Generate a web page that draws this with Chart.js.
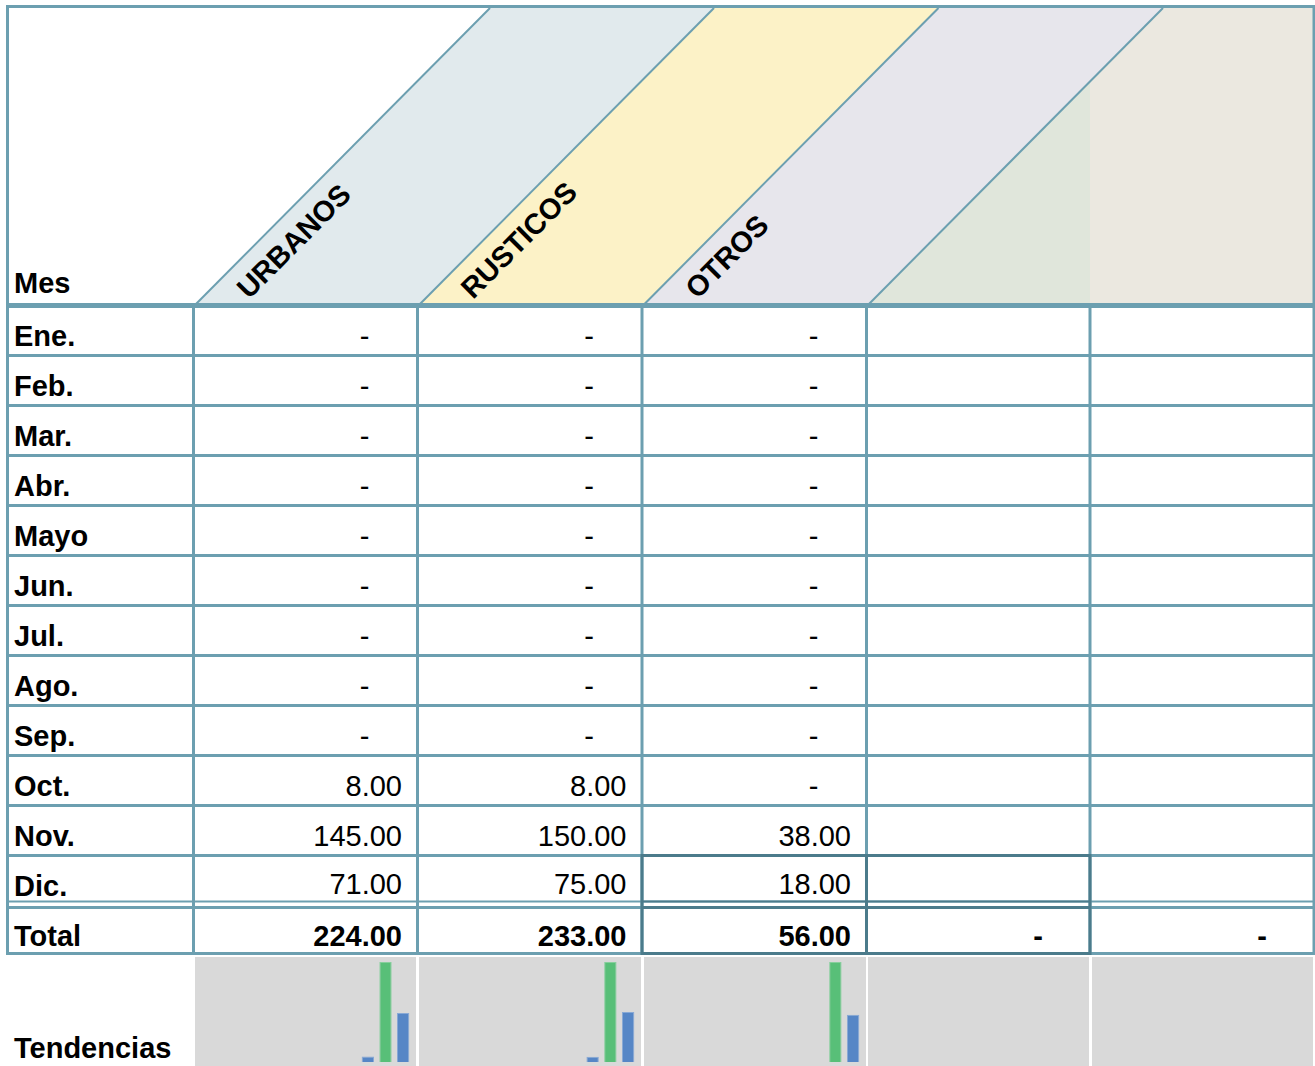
<!DOCTYPE html>
<html lang="es">
<head>
<meta charset="utf-8">
<title>Tendencias</title>
<script src="https://cdn.jsdelivr.net/npm/chart.js@4.4.1/dist/chart.umd.min.js"></script>
<style>
  html, body { margin: 0; padding: 0; background: #fff; }
  #sheet {
    position: relative;
    width: 1315px;
    height: 1066px;
    overflow: hidden;
    font-family: 'Liberation Sans', Arial, sans-serif;
  }
  #grid { position: absolute; left: 0; top: 0; }
  .spark { position: absolute; background: #d9d9d9; }
  .spark canvas { display: block; }
</style>
</head>
<body>
<div id="sheet">
  <svg id="grid" width="1315" height="1066" xmlns="http://www.w3.org/2000/svg"></svg>
</div>
<script>
(() => {
  'use strict';

  // ── Data ────────────────────────────────────────────────────────────────────

  const MONTHS = ['Ene.', 'Feb.', 'Mar.', 'Abr.', 'Mayo', 'Jun.',
                  'Jul.', 'Ago.', 'Sep.', 'Oct.', 'Nov.', 'Dic.'];

  const HEADERS = ['URBANOS', 'RUSTICOS', 'OTROS', '', ''];

  const URBANOS  = [0, 0, 0, 0, 0, 0, 0, 0, 0, 8, 145, 71];
  const RUSTICOS = [0, 0, 0, 0, 0, 0, 0, 0, 0, 8, 150, 75];
  const OTROS    = [0, 0, 0, 0, 0, 0, 0, 0, 0, 0, 38, 18];
  const EXTRA_1  = [null, null, null, null, null, null, null, null, null, null, null, null];
  const EXTRA_2  = [null, null, null, null, null, null, null, null, null, null, null, null];

  const SERIES = [URBANOS, RUSTICOS, OTROS, EXTRA_1, EXTRA_2];

  // ── Layout / colours ────────────────────────────────────────────────────────

  const COL_X  = [7.5, 193.5, 417.5, 642, 866.5, 1090, 1314];   // grid line centres
  const LINE   = '#6c9fb0';
  const DARK   = '#4b7b8b';
  const BANDS  = ['#e1eaed', '#fcf2c7', '#e7e6ec', '#e0e6db'];
  const BEIGE  = '#ebe8e0';
  const FONT   = "'Liberation Sans', Arial, sans-serif";
  const SIZE   = 29;
  const HEAD_TOP = 8, HEAD_BOT = 305;
  const SLANT  = 295;

  const svg = document.getElementById('grid');
  const parts = [];

  const line = (x1, y1, x2, y2, w, c) =>
    parts.push(`<line x1="${x1}" y1="${y1}" x2="${x2}" y2="${y2}" stroke="${c || LINE}" stroke-width="${w}"/>`);
  const poly = (pts, fill) =>
    parts.push(`<polygon points="${pts.map(p => p.join(',')).join(' ')}" fill="${fill}"/>`);
  const text = (x, y, s, opts = {}) =>
    parts.push(`<text x="${x}" y="${y}" font-family="${FONT}" font-size="${SIZE}" ` +
      `font-weight="${opts.bold ? 'bold' : 'normal'}" text-anchor="${opts.anchor || 'start'}" fill="#000"` +
      `${opts.rotate ? ` transform="rotate(-45 ${x} ${y})"` : ''}>${s}</text>`);

  // ── Slanted header ──────────────────────────────────────────────────────────

  const bx = k => COL_X[k] + 1.5;               // bottom x of the k-th slanted line
  const band = k => [[bx(k), HEAD_BOT], [bx(k) + SLANT, HEAD_TOP],
                     [bx(k + 1) + SLANT, HEAD_TOP], [bx(k + 1), HEAD_BOT]];

  for (let k = 0; k < 4; k++) poly(band(k + 1), BANDS[k]);

  // last column keeps its own fill right of the fourth slanted line
  const yCut = HEAD_BOT - (COL_X[5] - bx(4)) * (HEAD_BOT - HEAD_TOP) / SLANT;
  poly([[COL_X[5], HEAD_BOT], [COL_X[5], yCut], [bx(4) + SLANT, HEAD_TOP],
        [1315, HEAD_TOP], [1315, HEAD_BOT]], BEIGE);

  for (let k = 1; k <= 4; k++) line(bx(k), HEAD_BOT, bx(k) + SLANT, HEAD_TOP, 2);

  HEADERS.forEach((h, i) => {
    if (h) text(bx(i + 1) + 54, 300, h, { bold: true, rotate: true });
  });
  text(14, 293, 'Mes', { bold: true });

  // ── Grid lines ──────────────────────────────────────────────────────────────

  line(6, 6.5, 1315, 6.5, 3);
  line(COL_X[0], 5, COL_X[0], 955, 3);
  line(COL_X[6], 5, COL_X[6], 955, 3);
  line(6, 305.5, 1315, 305.5, 5);
  for (let i = 1; i <= 11; i++) line(6, 305.5 + 50 * i, 1315, 305.5 + 50 * i, 3);
  line(6, 901.5, 1315, 901.5, 2);
  line(6, 907.5, 1315, 907.5, 3);
  line(6, 953.5, 1315, 953.5, 3);
  for (let c = 1; c <= 5; c++) line(COL_X[c], 305, COL_X[c], 955, 3);

  // darker box around the last rows of the third and fourth column
  [855.5, 901.5, 907.5, 953.5].forEach(y => line(COL_X[3], y, COL_X[5], y, y === 901.5 ? 2 : 3, DARK));
  [3, 4, 5].forEach(c => line(COL_X[c], 854, COL_X[c], 955, 3, DARK));

  // ── Cell texts ──────────────────────────────────────────────────────────────

  MONTHS.forEach((m, i) => text(14, 346 + 50 * i, m, { bold: true }));
  text(14, 946, 'Total', { bold: true });
  text(14, 1058, 'Tendencias', { bold: true });

  SERIES.forEach((values, c) => {
    const right = COL_X[c + 2];
    values.forEach((v, i) => {
      const y = Math.min(346 + 50 * i, 894);
      if (v === null) return;
      if (v === 0) text(right - 53, y, '-', { anchor: 'middle' });
      else text(right - 15.5, y, v.toFixed(2), { anchor: 'end' });
    });
    const total = values.reduce((a, b) => a + (b || 0), 0);
    if (total === 0) text(right - 52, 946, '-', { anchor: 'middle', bold: true });
    else text(right - 15.5, 946, total.toFixed(2), { anchor: 'end', bold: true });
  });

  svg.innerHTML = parts.join('');

  // ── Sparklines (Tendencias) ─────────────────────────────────────────────────

  const GREEN = '#58bf78', GREEN_EDGE = '#86cf9c';
  const BLUE  = '#5686c6', BLUE_EDGE  = '#88a9d6';
  const sheet = document.getElementById('sheet');

  SERIES.forEach((values, c) => {
    const left = COL_X[c + 1] + 1.5;
    const width = Math.round(COL_X[c + 2] - 1.5 - left);
    const cell = document.createElement('div');
    cell.className = 'spark';
    cell.style.left = left + 'px';
    cell.style.top = '957px';
    cell.style.width = width + 'px';
    cell.style.height = '109px';
    sheet.appendChild(cell);

    const nums = values.filter(v => v !== null);
    if (!nums.length) return;

    const canvas = document.createElement('canvas');
    canvas.width = width;
    canvas.height = 109;
    cell.appendChild(canvas);

    const max = Math.max(...nums);
    new Chart(canvas.getContext('2d'), {
      type: 'bar',
      data: {
        labels: MONTHS,
        datasets: [{
          data: values,
          backgroundColor: values.map(v => v === max ? GREEN : BLUE),
          borderColor:     values.map(v => v === max ? GREEN_EDGE : BLUE_EDGE),
          borderWidth: ctx => (ctx.raw > 0 ? 1 : 0),
          barPercentage: 0.7,
          categoryPercentage: 1,
        }],
      },
      options: {
        responsive: false,
        animation: false,
        layout: { padding: { left: 5, right: 4, top: 5, bottom: 4 } },
        plugins: { legend: { display: false }, tooltip: { enabled: false } },
        scales: {
          x: { display: false },
          y: { display: false, min: 0, max },
        },
      },
    });
  });
})();
</script>
</body>
</html>
